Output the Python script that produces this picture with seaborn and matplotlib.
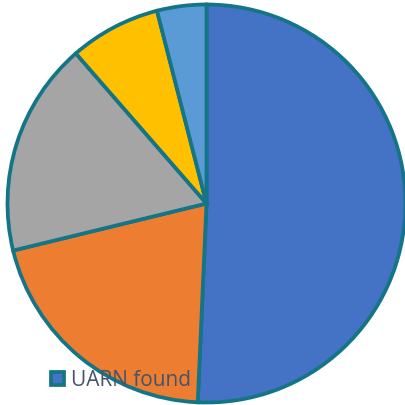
import matplotlib
matplotlib.use("Agg")
import matplotlib.pyplot as plt
import seaborn as sns

# slice values (share of records, %), clockwise from 12 o'clock
categories = ["UARN found", "Category 2", "Category 3", "Category 4", "Category 5"]
values = [50.7, 20.5, 17.4, 7.4, 4.0]
colors = ["#4472C4", "#ED7D31", "#A5A5A5", "#FFC000", "#5B9BD5"]
edge = "#137586"

sns.set_style("white")
plt.rcParams["font.family"] = ["Open Sans", "DejaVu Sans"]

fig = plt.figure(figsize=(4.06, 4.05), dpi=100)
ax = fig.add_axes([0, 0, 1, 1])

wedges, _ = ax.pie(values, colors=colors, startangle=90, counterclock=False,
                   radius=1, wedgeprops=dict(edgecolor=edge, linewidth=2.7))

# place the pie: centre at (206.5, 203.5) px, radius 199 px
r = 199.0
ax.set_xlim(-206.5 / r, (406 - 206.5) / r)
ax.set_ylim(-(405 - 203.5) / r, 203.5 / r)
ax.set_aspect("auto")
ax.axis("off")

leg = fig.legend([wedges[0]], [categories[0]], loc="lower left",
                 bbox_to_anchor=(0.125, 0.035), frameon=False, fontsize=15,
                 handlelength=0.65, handleheight=0.65, handletextpad=0.3,
                 borderpad=0, borderaxespad=0)
for t in leg.get_texts():
    t.set_color("#44546A")

fig.savefig("out.png", dpi=100)
